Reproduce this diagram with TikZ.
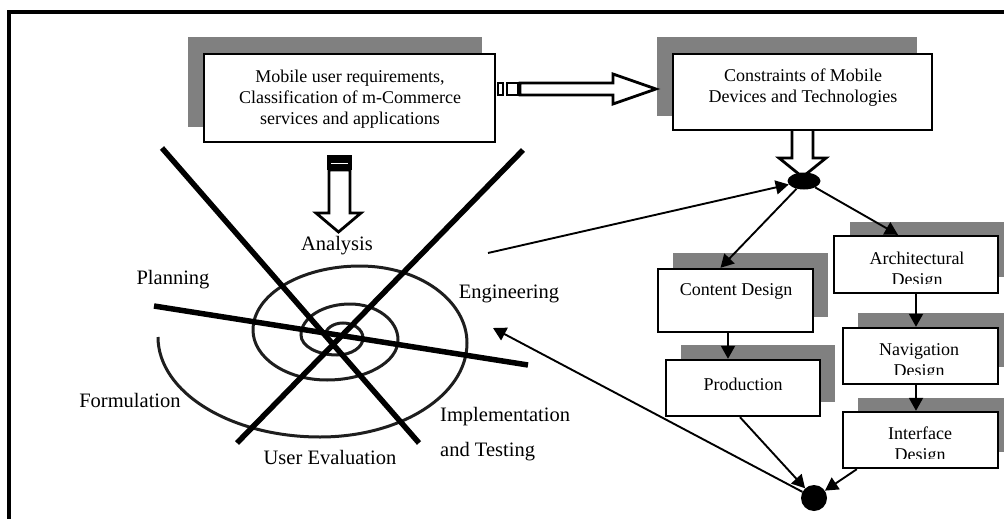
\documentclass[tikz,border=0pt]{standalone}
\usepackage{fontspec}
\setmainfont{Liberation Serif}
\usetikzlibrary{arrows.meta,shapes.geometric}
\definecolor{shade}{HTML}{808080}
\definecolor{spir}{HTML}{1E1E1E}
\begin{document}
\begin{tikzpicture}[x=1pt,y=-1pt,
  shadowfill/.style={fill=shade},
  box/.style={draw,line width=2.4pt,fill=white,inner sep=0pt},
  boxtext/.style={font=\fontsize{18}{21}\selectfont,align=center,inner sep=0pt},
  lbl/.style={font=\fontsize{20.5}{24}\selectfont,inner sep=0pt},
  conn/.style={line width=1.9pt,-{Triangle[length=13pt,width=14pt]}},
  blk/.style={draw,line width=2.8pt,fill=white,line join=miter},
  bar/.style={line width=5.5pt},
  spiral/.style={draw=spir,line width=3pt}]
\useasboundingbox (0,0) rectangle (1004,519);
% frame
\draw[line width=4pt] (9,519) -- (9,12) -- (1004,12);
% shadows
\fill[shadowfill] (188,37) rectangle (482,127);
\fill[shadowfill] (657,37) rectangle (917,116);
\fill[shadowfill] (673,253) rectangle (828,317);
\fill[shadowfill] (681,345) rectangle (835,402);
\fill[shadowfill] (850,222) rectangle (1004,277);
\fill[shadowfill] (858,313) rectangle (1004,367);
\fill[shadowfill] (858,398) rectangle (1004,452);
% spiral
\draw[spiral] (158,337)
  arc[start angle=180,end angle=270,x radius=162pt,y radius=100pt]
  arc[start angle=270,end angle=360,x radius=147pt,y radius=94pt]
  arc[start angle=0,end angle=90,x radius=107pt,y radius=77pt]
  arc[start angle=90,end angle=180,x radius=107pt,y radius=64pt]
  arc[start angle=180,end angle=270,x radius=74pt,y radius=50pt]
  arc[start angle=270,end angle=360,x radius=71pt,y radius=40pt]
  arc[start angle=0,end angle=90,x radius=48pt,y radius=36pt]
  arc[start angle=90,end angle=180,x radius=49pt,y radius=31pt]
  arc[start angle=180,end angle=270,x radius=36pt,y radius=20pt]
  arc[start angle=270,end angle=360,x radius=26pt,y radius=17pt]
  arc[start angle=0,end angle=90,x radius=20pt,y radius=15pt]
  arc[start angle=90,end angle=180,x radius=18pt,y radius=13pt];
% thick cross lines
\draw[bar] (162,148) -- (419,443);
\draw[bar] (523,150) -- (237,443);
\draw[bar] (154,306) -- (528,365);
% labels
\node[lbl] (lana) at (337,246) {Analysis};
\node[lbl] (lpla) at (173,280) {Planning};
\node[lbl] (leng) at (509,294) {Engineering};
\node[lbl] (lfor) at (130,400) {Formulation};
\node[lbl] (luse) at (330,457) {User Evaluation};
\node[lbl,anchor=west] (limp) at (440,417) {Implementation};
\node[lbl,anchor=west] (ltes) at (440,452) {and Testing};
% boxes
\node[box,minimum width=291pt,minimum height=88pt] (req) at (349.5,98) {};
\node[boxtext] (reqt) at (350,99) {Mobile user requirements,\\Classification of m-Commerce\\services and applications};
\node[box,minimum width=259pt,minimum height=76pt] (con) at (802.5,92) {};
\node[boxtext] (cont) at (803,88) {Constraints of Mobile\\Devices and Technologies};
\node[box,minimum width=155pt,minimum height=63pt] (cd) at (735.5,300.5) {};
\node[boxtext] (cdt) at (736,291) {Content Design};
\node[box,minimum width=154pt,minimum height=56pt] (pr) at (743,388) {};
\node[boxtext] (prt) at (743,384) {Production};
\node[box,minimum width=164pt,minimum height=57pt] (ad) at (916,264.5) {};
\node[box,minimum width=155pt,minimum height=56pt] (nd) at (920.5,356) {};
\node[box,minimum width=155pt,minimum height=56pt] (id) at (920.5,440) {};
\begin{scope}
\clip (834,236) rectangle (998,283);
\node[boxtext] (adt) at (917,271) {Architectural\\Design};
\end{scope}
\begin{scope}
\clip (843,328) rectangle (998,374);
\node[boxtext] (ndt) at (919,362) {Navigation\\Design};
\end{scope}
\begin{scope}
\clip (843,412) rectangle (998,458);
\node[boxtext] (idt) at (920,446) {Interface\\Design};
\end{scope}
% block arrows
\draw[line width=2.6pt,fill=white] (498,83) rectangle (503,95);
\draw[line width=2.6pt,fill=white] (507,83) rectangle (518,95);
\draw[blk] (520,83) -- (613,83) -- (613,74) -- (656,89) -- (613,104) -- (613,95) -- (520,95) -- cycle;
\draw[blk] (792,131) -- (792,158) -- (779,158) -- (802.5,177) -- (826,158) -- (813,158) -- (813,131);
\fill (327,155) rectangle (352,170);
\draw[white,line width=1.3pt] (331,163.5) -- (348,163.5);
\draw[blk] (329,170) -- (329,213) -- (316,213) -- (338.5,232) -- (361,213) -- (350,213) -- (350,170) -- cycle;
% junctions
\node[ellipse,fill,minimum width=33pt,minimum height=17pt,inner sep=0pt] (ell) at (804,181) {};
\node[circle,fill,minimum size=26pt,inner sep=0pt] (dot) at (814,498) {};
% connectors
\coordinate (src) at (488,253);
\draw[conn] (src) -- (ell);
\draw[conn] (ell) -- ([xshift=-15pt]cd.north);
\draw[conn] (ell) -- ([xshift=-18pt]ad.north);
\coordinate (xc) at (728,0);
\draw[conn] (cd.south -| xc) -- (pr.north -| xc);
\coordinate (xa) at (916,0);
\draw[conn] (ad.south -| xa) -- (nd.north -| xa);
\draw[conn] (nd.south -| xa) -- (id.north -| xa);
\draw[conn] ([xshift=-3pt]pr.south) -- (dot);
\draw[conn] ([xshift=15pt]id.south west) -- (dot);
\coordinate (sp) at (493,328);
\draw[conn] (dot) -- (sp);
\end{tikzpicture}
\end{document}
